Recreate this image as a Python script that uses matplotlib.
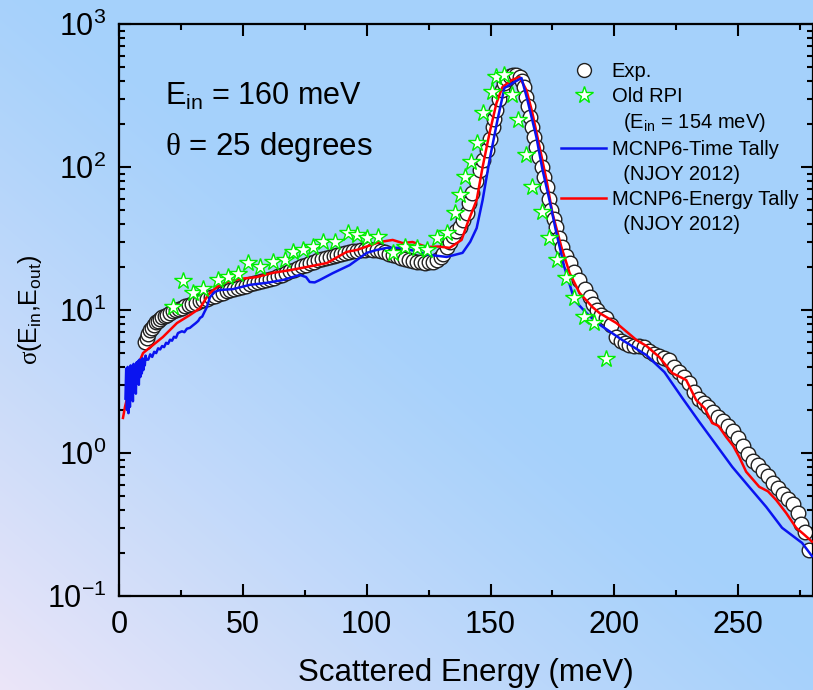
import numpy as np
import matplotlib
matplotlib.use("Agg")
import matplotlib.pyplot as plt
from matplotlib.lines import Line2D
from matplotlib.ticker import MultipleLocator, LogLocator

plt.rcParams["font.family"] = ["Liberation Sans", "DejaVu Sans"]
plt.rcParams["mathtext.fontset"] = "custom"
plt.rcParams["mathtext.rm"] = "Liberation Sans"
plt.rcParams["mathtext.it"] = "Liberation Sans:italic"
plt.rcParams["mathtext.bf"] = "Liberation Serif"
plt.rcParams["axes.unicode_minus"] = False

# experimental data (open circles)
exp_E = [10.5, 11.2, 11.8, 12.5, 13.3, 14.0, 14.8, 15.6, 16.5, 17.5, 18.5, 19.5,
         20.6, 21.8, 23.0, 24.2, 25.5, 26.8, 28.1, 29.5, 31.0, 32.5, 34.0, 35.5,
         37.0, 38.6, 40.2, 41.8, 43.4, 45.0, 46.6, 48.2, 49.8, 51.4, 53.0, 54.6,
         56.2, 57.8, 59.4, 61.0, 62.6, 64.2, 65.8, 67.4, 69.0, 70.6, 72.2, 73.8,
         75.4, 77.0, 78.6, 80.2, 81.8, 83.4, 85.0, 86.6, 88.2, 89.8, 91.4, 93.0,
         94.6, 96.2, 97.8, 99.4, 101.0, 102.6, 104.2, 105.8, 107.4, 109.0, 110.6,
         112.2, 113.8, 115.4, 117.0, 118.6, 120.2, 121.8, 123.4, 125.0, 126.6,
         128.2, 129.8, 131.0, 132.3, 133.6, 134.9, 136.2, 137.5, 138.9, 140.3,
         141.5, 142.7, 144.1, 145.6, 147.0, 148.4, 149.6, 150.8, 151.6, 152.4,
         153.6, 154.6, 155.6, 156.6, 157.8, 159.0, 160.3, 161.7, 162.7, 163.7,
         164.5, 165.3, 166.1, 166.9, 167.7, 168.5, 169.5, 170.6, 171.6, 172.6,
         173.6, 174.6, 175.6, 176.6, 177.8, 179.0, 180.4, 181.9, 183.9, 185.9,
         188.0, 190.0, 191.5, 192.8, 194.6, 196.8, 198.8, 200.8, 202.8, 204.4,
         206.0, 208.0, 210.0, 212.0, 214.0, 216.0, 218.0, 220.0, 222.0, 224.0,
         226.0, 228.0, 230.0, 232.0, 234.0, 236.0, 238.0, 240.0, 242.0, 244.0,
         246.0, 248.0, 250.0, 252.0, 254.0, 256.0, 258.0, 260.0, 262.0, 264.0,
         266.0, 268.0, 270.0, 272.0, 274.0, 275.5, 277.0, 278.6]
exp_sig = [5.97, 6.4, 6.8, 7.2, 7.5, 7.9, 8.2, 8.4, 8.6, 8.9, 9.1, 9.3,
           9.6, 9.8, 10.0, 10.2, 10.4, 10.6, 10.8, 11.0, 11.2, 11.5, 11.8, 12.0,
           12.3, 12.6, 12.9, 13.2, 13.5, 13.8, 14.1, 14.3, 14.6, 14.8, 15.1, 15.4,
           15.6, 15.9, 16.2, 16.5, 16.8, 17.2, 17.6, 18.1, 18.6, 19.2, 19.8, 20.3,
           20.8, 21.3, 21.8, 22.3, 22.7, 23.1, 23.6, 24.0, 24.4, 24.7, 25.1, 25.4,
           25.7, 26.0, 26.2, 26.4, 26.5, 26.4, 26.2, 25.8, 25.3, 24.8, 24.3,
           23.7, 23.2, 22.7, 22.3, 22.0, 21.7, 21.5, 21.4, 21.5, 21.8,
           22.4, 23.4, 24.5, 27.6, 30.0, 33.0, 35.5, 38.0, 42.5, 47.6,
           56.0, 65.7, 80.0, 95.3, 112, 131, 158, 190, 218, 250,
           300, 345, 385, 410, 430, 440, 438, 426, 400, 362,
           310, 265, 225, 190, 162, 138, 118, 100, 85, 72,
           60, 50, 43, 38, 32, 27.6, 24, 21.3, 18.5, 16.2,
           14.0, 12.3, 11.0, 10.0, 9.3, 8.8, 7.9, 6.5, 6.1, 5.9,
           5.7, 5.6, 5.6, 5.5, 5.2, 4.9, 4.8, 4.65, 4.45, 4.0,
           3.7, 3.4, 3.1, 2.65, 2.4, 2.25, 2.1, 1.95, 1.8, 1.68,
           1.55, 1.42, 1.28, 1.12, 0.98, 0.88, 0.82, 0.75, 0.69, 0.62,
           0.57, 0.52, 0.48, 0.44, 0.38, 0.32, 0.28, 0.21]

# old RPI data (stars), E_in = 154 meV
rpi_E = [21.8, 25.8, 29.8, 33.9, 39.9, 44.0, 48.0, 52.0, 56.9, 62.1, 66.9, 70.2,
         74.2, 78.2, 82.3, 87.1, 92.3, 96.0, 100.0, 104.4, 110.5, 115.3, 120.2,
         124.2, 128.2, 132.3, 135.5, 137.5, 139.5, 142.3, 144.4, 146.8, 150.4,
         152.4, 155.6, 158.5, 160.9, 164.5, 166.9, 170.6, 173.8, 177.0, 180.6,
         183.9, 187.9, 191.9, 196.8]
rpi_sig = [10.5, 16.0, 13.2, 14.0, 16.2, 17.0, 17.9, 21.3, 20.0, 21.7, 22.4, 25.5,
           26.3, 27.6, 29.9, 29.9, 34.5, 33.4, 31.8, 32.4, 25.1, 27.6, 27.2,
           26.3, 31.8, 34.5, 47.6, 63.6, 85, 108, 147, 239, 334,
           426, 440, 318, 213, 121, 72, 48.4, 31.8, 22.4, 16.7,
           12.1, 8.9, 8.1, 4.54]

# MCNP6 time tally
time_E = [2.6, 2.9, 3.2, 3.5, 3.8, 4.1, 4.4, 4.7, 5.0, 5.3, 5.6, 5.9, 6.2, 6.5,
          6.8, 7.1, 7.4, 7.7, 8.0, 8.3, 8.6, 8.9, 9.2, 9.5, 9.8, 10.1, 10.4,
          10.7, 11.0, 11.8, 12.6, 13.4, 14.2, 15.0, 15.8, 16.6, 17.4, 18.2,
          19.0, 19.8, 20.6, 21.4, 22.2, 23.0, 23.8, 24.6, 25.4, 26.4, 27.4,
          28.6, 29.8, 31.0, 32.0, 32.7, 33.6, 34.5, 35.5, 36.7, 38.7, 40.7,
          46.0, 52.8, 59.7, 66.1, 73.0, 75.5, 77.0, 79.0, 81.0, 86.3, 93.1,
          100.0, 104.0, 108.0, 113.3, 119.0, 125.4, 132.3, 138.7, 141.8, 144.4,
          146.8, 149.6, 152.8, 155.6, 158.9, 162.5, 164.9, 168.5, 171.0, 173.8,
          176.6, 179.8, 183.9, 188.7, 193.1, 203.2, 212.9, 220.2, 227.4, 234.3,
          241.1, 247.6, 254.4, 261.3, 267.7, 275.8, 279.8]
time_sig = [2.4, 3.9, 2.0, 4.0, 1.9, 3.7, 2.1, 4.1, 2.5, 3.9, 2.3, 4.2, 2.8, 3.8,
            2.6, 4.3, 3.1, 4.4, 3.0, 4.5, 3.4, 4.2, 3.6, 4.6, 3.8, 4.5, 4.1,
            4.8, 4.5, 4.5, 4.9, 4.7, 5.1, 5.0, 5.4, 5.3, 5.6, 5.5,
            5.9, 5.8, 6.2, 6.1, 6.5, 6.4, 6.9, 7.0, 7.1, 7.0, 7.4,
            7.5, 7.8, 8.1, 8.4, 8.8, 9.0, 9.7, 10.5, 12.3, 13.4, 13.8,
            14.0, 15.0, 15.5, 16.2, 17.6, 17.0, 15.7, 15.6, 16.2, 18.1, 20.6,
            25.1, 26.3, 27.2, 27.2, 26.0, 24.3, 23.5, 25.1, 30.0, 37.4,
            58.7, 112, 213, 357, 386, 419, 294, 162, 95.3, 58.7,
            34.5, 20.0, 11.7, 9.53, 8.11, 6.17, 4.84, 3.68, 2.43, 1.65,
            1.14, 0.80, 0.58, 0.42, 0.30, 0.235, 0.19]

# MCNP6 energy tally
energy_E = [1.6, 2.4, 4.4, 7.3, 9.7, 13.7, 17.7, 23.4, 28.6, 32.7, 35.9, 39.5,
            43.5, 48.8, 55.6, 62.1, 69.0, 75.8, 83.9, 91.9, 96.0, 105.2, 110.5,
            114.5, 118.5, 124.2, 129.0, 133.5, 138.3, 140.7, 144.4, 146.8, 149.6,
            152.4, 154.8, 158.5, 161.7, 164.5, 166.9, 169.8, 172.6, 175.0, 178.6,
            181.9, 185.9, 191.1, 194.0, 200.8, 208.9, 213.0, 218.1, 223.4, 229.0,
            233.0, 236.5, 239.5, 242.0, 245.2, 248.0, 250.4, 253.2, 258.5, 262.0,
            265.3, 269.4, 273.4, 276.5, 279.8]
energy_sig = [1.76, 2.1, 2.9, 3.99, 5.0, 5.69, 6.47, 8.11, 9.22, 10.3, 12.7, 14.5,
              15.7, 16.5, 17.0, 18.2, 19.0, 20.0, 21.3, 25.5, 26.3, 29.9, 30.9,
              29.4, 29.9, 27.6, 27.8, 27.2, 30.9, 40.5, 58.7, 100, 173,
              280, 362, 405, 426, 345, 239, 138, 81, 47.6, 27.6,
              18.2, 13.2, 10.5, 9.53, 8.11, 6.17, 5.6, 4.69, 3.62, 3.24,
              2.35, 2.05, 1.62, 1.55, 1.29, 1.12, 0.94, 0.74, 0.58, 0.54,
              0.47, 0.38, 0.30, 0.27, 0.24]

fig = plt.figure(figsize=(8.13, 6.9), dpi=100)

# background gradient: lavender bottom-left -> light blue
bg = fig.add_axes([0, 0, 1, 1], zorder=-10)
gx, gy = np.meshgrid(np.linspace(0, 1, 300), np.linspace(1, 0, 300))
f = np.clip(1 - (gx + gy) / 1.05, 0, 1) ** 1.2
blue = np.array([0.650, 0.820, 0.985])
lav = np.array([0.925, 0.900, 0.975])
img = blue[None, None, :] + (lav - blue)[None, None, :] * f[:, :, None]
bg.imshow(img, aspect="auto", extent=[0, 1, 0, 1], interpolation="bilinear")
bg.axis("off")

ax = fig.add_axes([0.1464, 0.1362, 0.853, 0.829])
ax.set_facecolor("none")

ax.plot(energy_E, energy_sig, color="#ff0000", lw=1.8, zorder=3)
ax.plot(time_E, time_sig, color="#0a14f0", lw=1.8, zorder=4)
ax.plot(exp_E, exp_sig, "o", ms=10.5, mfc="white", mec="#202020", mew=1.0, zorder=2)
ax.plot(rpi_E, rpi_sig, "*", ms=13, mfc="white", mec="#00ee00", mew=1.0, zorder=5)

ax.set_yscale("log")
ax.set_xlim(0, 280)
ax.set_ylim(0.1, 1000)
ax.xaxis.set_major_locator(MultipleLocator(50))
ax.xaxis.set_minor_locator(MultipleLocator(25))
ax.yaxis.set_major_locator(LogLocator(base=10, numticks=10))
ax.yaxis.set_minor_locator(LogLocator(base=10, subs=np.arange(2, 10), numticks=10))

for s in ax.spines.values():
    s.set_linewidth(1.6)
ax.tick_params(which="both", direction="in", top=True, right=True, width=1.5,
               labelsize=22)
ax.tick_params(which="major", length=8.5)
ax.tick_params(which="minor", length=4.5)
ax.tick_params(axis="x", pad=10)
ax.tick_params(axis="y", pad=9)

ax.set_xlabel("Scattered Energy (meV)", fontsize=22.5, labelpad=13)
ax.set_ylabel(r"$\mathbf{\sigma}$(E$_{\mathrm{in}}$,E$_{\mathrm{out}}$)",
              fontsize=18, labelpad=2)

ax.text(0.066, 0.858, r"E$_{\mathrm{in}}$ = 160 meV", transform=ax.transAxes,
        fontsize=22, va="baseline")
ax.text(0.066, 0.771, r"$\mathbf{\theta}$ = 25 degrees", transform=ax.transAxes,
        fontsize=22.5, va="baseline")

blank = Line2D([], [], linestyle="none")
handles = [
    Line2D([], [], linestyle="none", marker="o", ms=10, mfc="white", mec="#202020"),
    Line2D([], [], linestyle="none", marker="*", ms=13, mfc="white", mec="#00ee00"),
    blank,
    Line2D([], [], color="#0a14f0", lw=1.8),
    blank,
    Line2D([], [], color="#ff0000", lw=1.8),
    blank,
]
labels = ["Exp.", "Old RPI", r"  (E$_{\mathrm{in}}$ = 154 meV)", "MCNP6-Time Tally",
          "  (NJOY 2012)", "MCNP6-Energy Tally", "  (NJOY 2012)"]
ax.legend(handles, labels, loc="upper left", bbox_to_anchor=(0.638, 0.934),
          frameon=False, fontsize=14.5, handlelength=2.2, handletextpad=0.3,
          labelspacing=0.29, borderpad=0, borderaxespad=0)

fig.savefig("out.png", dpi=100)
